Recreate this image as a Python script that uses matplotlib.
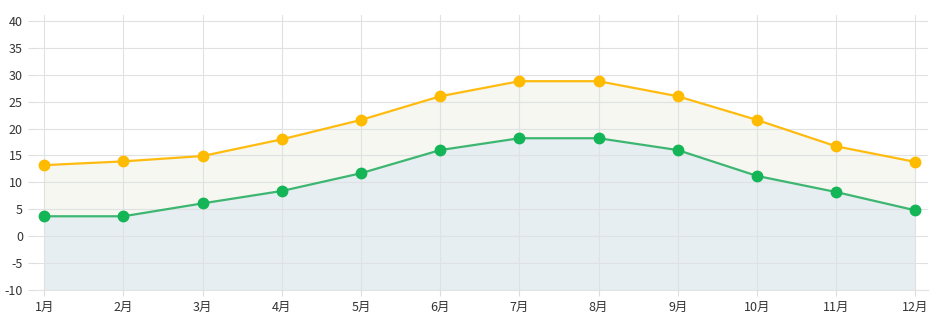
import matplotlib
matplotlib.use("Agg")
from matplotlib import pyplot as plt
import numpy as np

plt.rcParams['font.family'] = ['Noto Sans CJK SC', 'DejaVu Sans']

months = ['1月', '2月', '3月', '4月', '5月', '6月', '7月', '8月', '9月', '10月', '11月', '12月']
high = [13.2, 13.9, 14.9, 18.0, 21.6, 26.0, 28.8, 28.8, 26.0, 21.6, 16.7, 13.8]
low = [3.7, 3.7, 6.1, 8.4, 11.7, 16.0, 18.2, 18.2, 16.0, 11.2, 8.2, 4.8]
yticks = list(range(-10, 45, 5))

fig = plt.figure(figsize=(9.38, 3.23), dpi=100)
ax = fig.add_axes([34 / 938, 33 / 323, 894 / 938, 275 / 323])

x = np.arange(len(months))

# shaded bands under each line, grid stays visible on top
ax.fill_between(x, -10, low, color='#e6eef1', zorder=1, linewidth=0)
ax.fill_between(x, low, high, color='#f5f7f0', zorder=1, linewidth=0)

ax.plot(x, high, color='#ffbb0f', lw=1.6, marker='o', ms=7.5,
        mfc='#ffbb00', mec='#ffbb00', zorder=4)
ax.plot(x, low, color='#3db672', lw=1.6, marker='o', ms=7.5,
        mfc='#13b556', mec='#13b556', zorder=4)

ax.set_xlim(-0.13, 11.16)
ax.set_ylim(-10, 41.1)
ax.set_xticks(x)
ax.set_xticklabels(months)
ax.set_yticks(yticks)
ax.set_yticklabels([str(v) for v in yticks])

ax.grid(True, color='#dfe1e3', lw=0.8, zorder=2)
ax.set_axisbelow(False)
for side in ['top', 'right', 'left']:
    ax.spines[side].set_visible(False)
ax.spines['bottom'].set_color('#e3e3e3')
ax.tick_params(axis='both', colors='#dddddd', labelcolor='#333333',
               labelsize=9, length=4, width=0.8)
ax.tick_params(axis='y', pad=4)
ax.tick_params(axis='x', pad=4)

plt.savefig('out.png', dpi=100)
